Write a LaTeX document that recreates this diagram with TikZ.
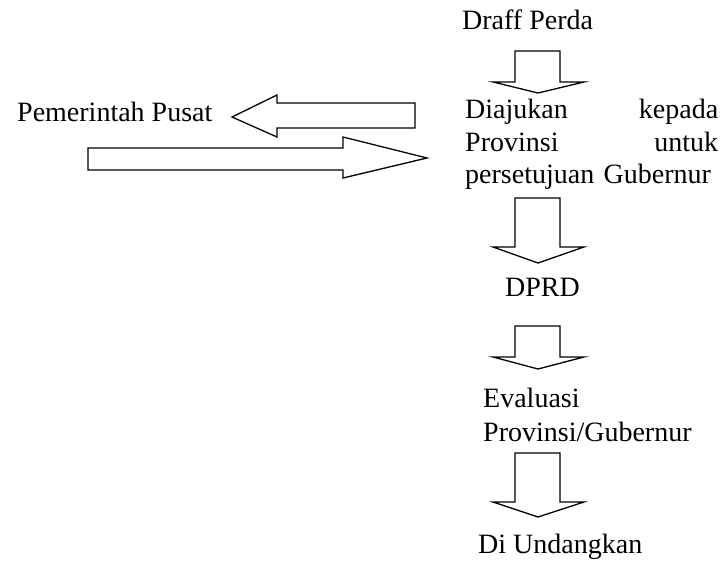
\documentclass[tikz,border=0pt]{standalone}
\usepackage{fontspec}
\setmainfont{Liberation Serif}
\begin{document}
\begin{tikzpicture}[x=1pt,y=-1pt,
  lbl/.style={anchor=base west,inner sep=0pt,font=\fontsize{28}{32.5}\selectfont},
  blockarrow/.style={draw=black,line width=1.3pt,line join=miter,fill=white}]
\useasboundingbox (0,0) rectangle (725,561);

% text of the flow
\node[lbl] (draff) at (462,30) {Draff Perda};
\node[lbl,text width=253pt,align=left] (diaj) at (465,119)
  {\makebox[\linewidth][s]{Diajukan\hfill kepada}\\
   \makebox[\linewidth][s]{Provinsi\hfill untuk}\\
   persetujuan Gubernur};
\node[lbl] (dprd) at (505,296) {DPRD};
\node[lbl,text width=240pt,align=left,font=\fontsize{28}{34}\selectfont] (eval) at (483,407)
  {Evaluasi\\Provinsi/Gubernur};
\node[lbl] (undang) at (478,553) {Di Undangkan};
\node[lbl] (pusat) at (17,122) {Pemerintah Pusat};

% downward block arrows between the steps
\foreach \t/\w/\p in {51/82/93, 198/247/263, 326/357/369, 453/502/517}{
  \draw[blockarrow] (515,\t) -- (560,\t) -- (560,\w) -- (584,\w) -- (538,\p)
    -- (493,\w) -- (515,\w) -- cycle;
}

% arrow towards the central government
\draw[blockarrow] (415,103) -- (415,128) -- (277,128) -- (277,137) -- (232,117)
  -- (277,95) -- (277,103) -- cycle;
% arrow back to the province
\draw[blockarrow] (88,148) -- (343,148) -- (343,137) -- (427,158) -- (343,178)
  -- (343,170) -- (88,170) -- cycle;
\end{tikzpicture}
\end{document}
